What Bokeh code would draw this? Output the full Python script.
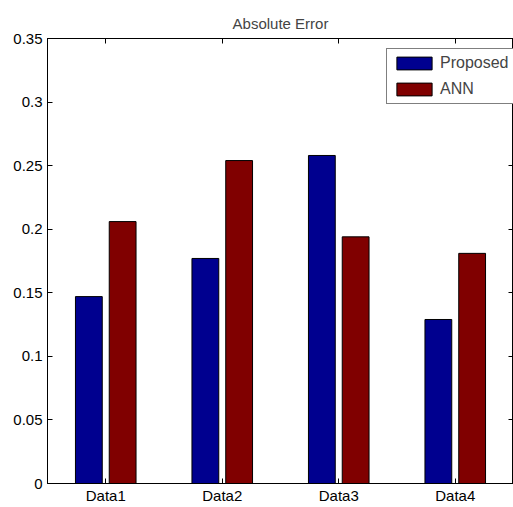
from bokeh.plotting import figure
from bokeh.models import Range1d, FixedTicker, LinearAxis, Legend, LegendItem, ColumnDataSource
from bokeh.embed import file_html
from bokeh.resources import INLINE

categories = ["Data1", "Data2", "Data3", "Data4"]
proposed = [0.147, 0.177, 0.258, 0.129]
ann = [0.206, 0.254, 0.194, 0.181]
yticks = [0, 0.05, 0.1, 0.15, 0.2, 0.25, 0.3, 0.35]
ytick_labels = ["0", "0.05", "0.1", "0.15", "0.2", "0.25", "0.3", "0.35"]

FONT = "Liberation Sans"
xs = list(range(1, len(categories) + 1))

p = figure(width=513, height=507, output_backend="svg", toolbar_location=None,
           x_range=Range1d(0.5, 4.5), y_range=Range1d(0, 0.35),
           min_border_left=47, min_border_right=0, min_border_top=38, min_border_bottom=24)
p.title.text = "Absolute Error"
p.title.align = "center"
p.title.text_font = FONT
p.title.text_font_size = "15px"
p.title.text_font_style = "normal"
p.title.standoff = 13
p.grid.visible = False
p.outline_line_color = "black"

src = ColumnDataSource(dict(
    xp=[x - 0.145 for x in xs], xa=[x + 0.145 for x in xs], proposed=proposed, ann=ann))
r1 = p.vbar(x="xp", top="proposed", width=0.23, source=src, fill_color="#00008F", line_color="black")
r2 = p.vbar(x="xa", top="ann", width=0.23, source=src, fill_color="#800000", line_color="black")

def style(ax):
    ax.major_tick_in = 5
    ax.major_tick_out = 0
    ax.minor_tick_in = 0
    ax.minor_tick_out = 0
    ax.axis_line_color = "black"
    ax.major_label_text_font = FONT
    ax.major_label_text_font_size = "15px"
    ax.major_label_text_color = "black"

xa = p.xaxis[0]
xa.ticker = FixedTicker(ticks=xs)
xa.major_label_overrides = {x: c for x, c in zip(xs, categories)}
xa.major_label_standoff = 3
style(xa)
ya = p.yaxis[0]
ya.ticker = FixedTicker(ticks=yticks)
ya.major_label_overrides = {t: l for t, l in zip(yticks, ytick_labels)}
ya.major_label_standoff = 5
style(ya)

top = LinearAxis(ticker=FixedTicker(ticks=xs), major_label_overrides={x: "" for x in xs},
                 major_label_standoff=0)
style(top)
p.add_layout(top, "above")
right = LinearAxis(ticker=FixedTicker(ticks=yticks), major_label_overrides={t: "" for t in yticks},
                   major_label_standoff=0)
style(right)
p.add_layout(right, "right")

legend = Legend(items=[LegendItem(label="Proposed", renderers=[r1]),
                       LegendItem(label="ANN", renderers=[r2])],
                location=(339, 379), glyph_width=44, glyph_height=16,
                label_text_font=FONT, label_text_font_size="16px",
                padding=5, spacing=8, margin=0, label_standoff=4,
                border_line_color="black", background_fill_alpha=1)
p.add_layout(legend, "center")

open("out.html", "w").write(file_html(p, INLINE))
